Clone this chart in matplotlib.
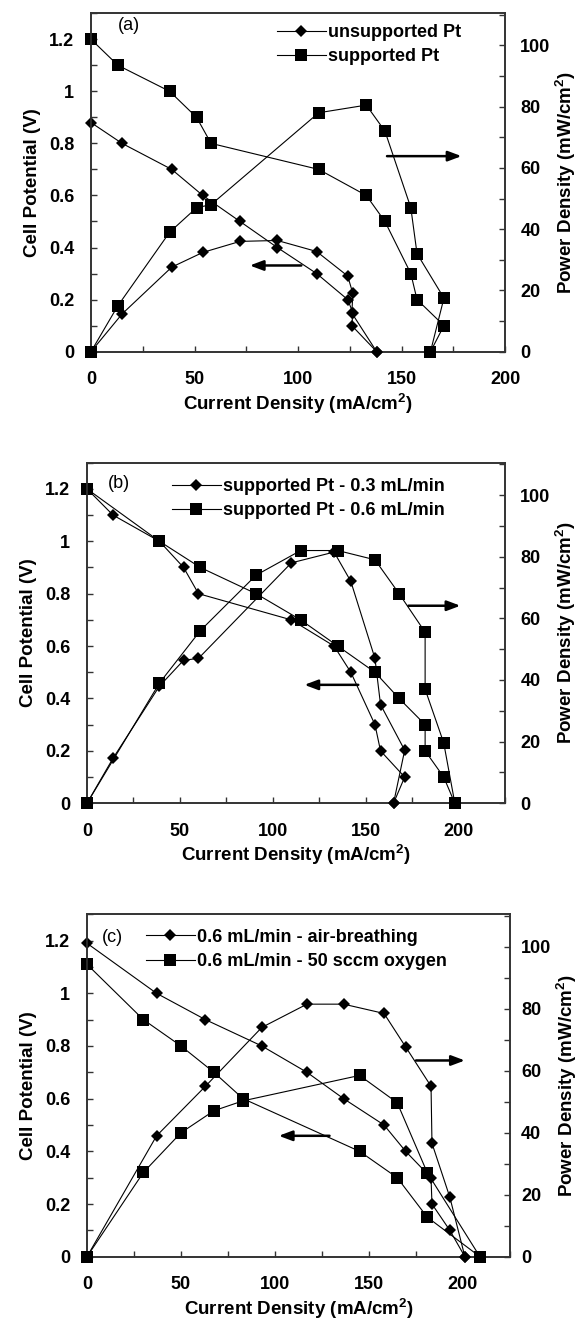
import matplotlib
matplotlib.use('Agg')
import matplotlib.pyplot as plt
from matplotlib.ticker import MultipleLocator, FormatStrFormatter

plt.rcParams['font.family'] = ['Liberation Sans', 'DejaVu Sans']
plt.rcParams['mathtext.fontset'] = 'custom'
plt.rcParams['mathtext.rm'] = 'Liberation Sans'
plt.rcParams['mathtext.bf'] = 'Liberation Sans:bold'

# panel (a): current density (mA/cm2), cell potential (V), power density (mW/cm2)
a_unsup_i = [0, 15, 39, 54, 72, 90, 109, 124, 126.5, 126, 138]
a_unsup_v = [0.88, 0.80, 0.70, 0.60, 0.50, 0.40, 0.30, 0.20, 0.15, 0.10, 0.0]
a_unsup_p = [0, 12.3, 27.6, 32.4, 36, 36.3, 32.7, 24.7, 19, 12.6, 0]
a_sup_i = [0, 13, 38, 51, 58, 110, 133, 142, 154.5, 157.5, 170.5, 164]
a_sup_v = [1.2, 1.1, 1.0, 0.9, 0.8, 0.7, 0.6, 0.5, 0.3, 0.2, 0.1, 0.0]
a_sup_p = [0, 15, 39, 47, 48, 78, 80.5, 72, 47, 32, 17.5, 0]
a_labels = ['unsupported Pt', 'supported Pt']

# panel (b)
b_03_i = [0, 14, 39, 52, 60, 110, 133, 142, 155, 158, 171, 165]
b_03_v = [1.2, 1.1, 1.0, 0.9, 0.8, 0.7, 0.6, 0.5, 0.3, 0.2, 0.1, 0.0]
b_03_p = [0, 14.6, 38, 46.4, 47, 78, 81.5, 72, 47, 32, 17.2, 0]
b_06_i = [0, 39, 61, 91, 115, 135, 155, 168, 182, 182, 192, 198]
b_06_v = [1.2, 1.0, 0.9, 0.8, 0.7, 0.6, 0.5, 0.4, 0.3, 0.2, 0.1, 0.0]
b_06_p = [0, 39, 56, 74, 82, 82, 79, 68, 55.5, 37, 19.6, 0]
b_labels = ['supported Pt - 0.3 mL/min', 'supported Pt - 0.6 mL/min']

# panel (c)
c_air_i = [0, 37, 63, 93, 117, 136.5, 158, 169.5, 183, 183.5, 193, 201]
c_air_v = [1.19, 1.0, 0.9, 0.8, 0.7, 0.6, 0.5, 0.4, 0.3, 0.2, 0.1, 0.0]
c_air_p = [0, 39, 55, 74, 81.5, 81.5, 78.5, 67.7, 55, 36.6, 19.2, 0]
c_oxy_i = [0, 30, 50, 67.5, 83, 145, 165, 181, 209]
c_oxy_v = [1.11, 0.90, 0.80, 0.70, 0.60, 0.40, 0.30, 0.15, 0.0]
c_oxy_p = [0, 27.2, 40, 47.1, 50.3, 58.5, 49.7, 27.1, 0]
c_labels = ['0.6 mL/min - air-breathing', '0.6 mL/min - 50 sccm oxygen']

SPINE = '#333333'


def panel(rect, d_set, s_set, labels, tag, xmax, leg_x, leg_y, tag_xy,
          right_arrow, left_arrow, rpad=11):
    ax = fig.add_axes(rect)
    ax2 = ax.twinx()

    di, dv, dp = d_set
    si, sv, sp = s_set
    style = dict(color='black', lw=0.8, mew=0, clip_on=False, zorder=3)
    l1, = ax.plot(di, dv, marker='D', ms=6.5, label=labels[0], **style)
    l2, = ax.plot(si, sv, marker='s', ms=8.8, label=labels[1], **style)
    ax2.plot(di, dp, marker='D', ms=6.5, **style)
    ax2.plot(si, sp, marker='s', ms=8.8, **style)

    ax.set_xlim(0, xmax)
    ax.set_ylim(0, 1.3)
    ax2.set_ylim(0, 110.5)

    ax.xaxis.set_major_locator(MultipleLocator(50))
    ax.xaxis.set_minor_locator(MultipleLocator(25))
    ax.yaxis.set_major_locator(MultipleLocator(0.2))
    ax.yaxis.set_minor_locator(MultipleLocator(0.1))
    ax.yaxis.set_major_formatter(FormatStrFormatter('%g'))
    ax2.yaxis.set_major_locator(MultipleLocator(20))
    ax2.yaxis.set_minor_locator(MultipleLocator(10))

    for a in (ax, ax2):
        for sp_ in a.spines.values():
            sp_.set_color(SPINE)
            sp_.set_linewidth(1.2)
    ax.tick_params(axis='x', which='both', direction='in', length=4, width=1,
                   color=SPINE, labelsize=13, pad=14, top=False)
    ax.tick_params(axis='y', which='both', direction='in', length=4, width=1,
                   color=SPINE, labelsize=13, pad=12, right=False)
    ax2.tick_params(axis='y', which='both', direction='in', length=4, width=1,
                    color=SPINE, labelsize=13, pad=rpad)
    for t in ax.get_xticklabels() + ax.get_yticklabels() + ax2.get_yticklabels():
        t.set_fontweight('bold')

    ax.set_xlabel(r'Current Density (mA/cm$^{\mathbf{2}}$)', fontsize=13.5,
                  fontweight='bold', labelpad=2)
    ax.set_ylabel('Cell Potential (V)', fontsize=13.5, fontweight='bold', labelpad=6)
    ax2.set_ylabel(r'Power Density (mW/cm$^{\mathbf{2}}$)', fontsize=13.5,
                   fontweight='bold', labelpad=2)

    ax.legend(handles=[l1, l2], loc='upper left', bbox_to_anchor=(leg_x, leg_y),
              frameon=False, borderpad=0, borderaxespad=0, handlelength=2.7,
              handletextpad=0.15, labelspacing=0.4,
              prop={'weight': 'bold', 'size': 13})
    ax.text(tag_xy[0], tag_xy[1], tag, transform=ax.transAxes, fontsize=13,
            ha='left', va='center')

    arrow = dict(arrowstyle='-|>,head_length=0.8,head_width=0.3', color='black',
                 lw=1.8, shrinkA=0, shrinkB=0)
    ax.annotate('', xy=right_arrow[1], xytext=right_arrow[0], arrowprops=arrow)
    ax.annotate('', xy=left_arrow[1], xytext=left_arrow[0], arrowprops=arrow)
    return ax


fig = plt.figure(figsize=(5.8, 13.22), dpi=100)

panel([0.1569, 0.7340, 0.7138, 0.2560],
      (a_unsup_i, a_unsup_v, a_unsup_p), (a_sup_i, a_sup_v, a_sup_p),
      a_labels, '(a)', 200, 0.449, 0.968, (0.065, 0.965),
      ((143, 0.751), (179, 0.751)), ((101.6, 0.331), (76.7, 0.331)))

panel([0.1500, 0.3924, 0.7207, 0.2576],
      (b_03_i, b_03_v, b_03_p), (b_06_i, b_06_v, b_06_p),
      b_labels, '(b)', 225, 0.203, 0.955, (0.049, 0.94),
      ((173, 0.754), (201, 0.754)), ((146, 0.452), (117, 0.452)))

panel([0.1500, 0.0494, 0.7293, 0.2590],
      (c_air_i, c_air_v, c_air_p), (c_oxy_i, c_oxy_v, c_oxy_p),
      c_labels, '(c)', 225, 0.139, 0.958, (0.035, 0.933),
      ((175, 0.745), (201, 0.745)), ((129, 0.459), (102, 0.459)), rpad=8)

fig.savefig('out.png', dpi=100, facecolor='white')
